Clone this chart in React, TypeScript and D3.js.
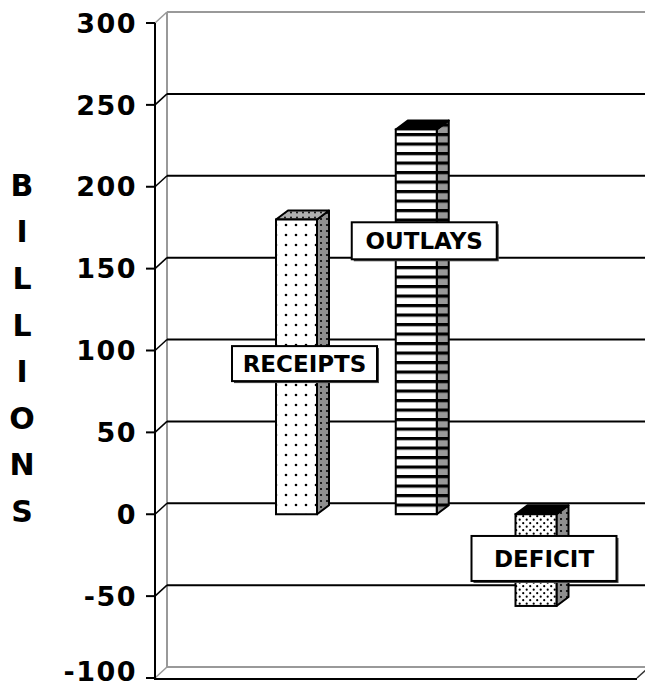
import React from "react";
import * as d3 from "d3";

const categories = ["RECEIPTS", "OUTLAYS", "DEFICIT"];
const values = [180, 235, -56];
const yTicks = [-100, -50, 0, 50, 100, 150, 200, 250, 300];
const axisTitle = "BILLIONS";
// label box anchors, in data units (value at box centre)
const labelAt = [92, 167, -27];

const W = 645;
const H = 688;
const FONT = "'DejaVu Sans', Verdana, sans-serif";

export default function App() {
  const y = d3.scaleLinear().domain([-100, 300]).range([678, 23]);
  const x = d3.scalePoint<string>().domain(categories).range([296.5, 536]);
  const axisX = 155;
  const dx = 12;
  const dy = -11;
  const wallRight = 660;
  const floorRight = 637;
  const barW = 41;
  const bdx = 12;
  const bdy = -9;

  const fronts = ["url(#dotsA)", "url(#stripes)", "url(#dotsB)"];
  const sides = ["url(#sideDots)", "url(#sideStripes)", "url(#sideDots)"];
  const tops = ["url(#topDots)", "#000", "#000"];
  const boxH = [35, 37, 45];
  const boxW = 145;

  const titleLetters = axisTitle.split("");
  const titleY = d3.scalePoint<number>().domain(d3.range(titleLetters.length)).range([185, 511]);

  return (
    <svg width={W} height={H} style={{ position: "absolute", left: 0, top: 0, background: "#fff" }}>
      <defs>
        <pattern id="dotsA" width="10" height="10" patternUnits="userSpaceOnUse" x="1" y="0">
          <rect width="10" height="10" fill="#fff" />
          <circle cx="5" cy="5" r="1.3" fill="#000" />
        </pattern>
        <pattern id="dotsB" width="7" height="7" patternUnits="userSpaceOnUse">
          <rect width="7" height="7" fill="#fff" />
          <circle cx="1.7" cy="1.7" r="1.1" fill="#000" />
          <circle cx="5.2" cy="5.2" r="1.1" fill="#000" />
        </pattern>
        <pattern id="sideDots" width="6" height="6" patternUnits="userSpaceOnUse">
          <rect width="6" height="6" fill="#8f8f8f" />
          <circle cx="3" cy="3" r="1.1" fill="#000" />
        </pattern>
        <pattern id="topDots" width="6" height="5" patternUnits="userSpaceOnUse">
          <rect width="6" height="5" fill="#b0b0b0" />
          <circle cx="3" cy="2.5" r="0.9" fill="#000" />
        </pattern>
        <pattern id="stripes" width="10" height="9.5" patternUnits="userSpaceOnUse">
          <rect width="10" height="9.5" fill="#fff" />
          <rect width="10" height="3.2" fill="#000" />
        </pattern>
        <pattern id="sideStripes" width="10" height="9.5" patternUnits="userSpaceOnUse">
          <rect width="10" height="9.5" fill="#999" />
          <rect width="10" height="3.2" fill="#000" />
        </pattern>
      </defs>

      {/* back wall */}
      <line x1={axisX + dx} x2={wallRight} y1={y(300) + dy} y2={y(300) + dy} stroke="#999" strokeWidth={2} />
      <line x1={axisX + dx} x2={axisX + dx} y1={y(300) + dy} y2={y(-100) + dy} stroke="#999" strokeWidth={2} />
      <line x1={axisX + dx} x2={floorRight + dx} y1={y(-100) + dy} y2={y(-100) + dy} stroke="#999" strokeWidth={2} />
      <line x1={axisX} x2={axisX + dx} y1={y(-100)} y2={y(-100) + dy} stroke="#999" strokeWidth={1.5} />
      <line x1={floorRight} x2={floorRight + dx} y1={y(-100)} y2={y(-100) + dy} stroke="#333" strokeWidth={1.5} />

      {yTicks.filter((t) => t > -100 && t < 300).map((t) => (
        <g key={"g" + t}>
          <line x1={axisX + dx} x2={wallRight} y1={y(t) + dy} y2={y(t) + dy} stroke="#000" strokeWidth={2} />
          <line x1={axisX} x2={axisX + dx} y1={y(t)} y2={y(t) + dy} stroke="#000" strokeWidth={1.5} />
        </g>
      ))}
      <line x1={axisX} x2={axisX + dx} y1={y(300)} y2={y(300) + dy} stroke="#999" strokeWidth={1.5} />

      {/* front axis & floor */}
      <line x1={axisX} x2={axisX} y1={y(300)} y2={y(-100)} stroke="#000" strokeWidth={2} />
      <line x1={axisX - 1} x2={floorRight} y1={y(-100) + 1} y2={y(-100) + 1} stroke="#000" strokeWidth={2} />

      {yTicks.map((t) => (
        <g key={"t" + t}>
          <line x1={axisX - 9} x2={axisX} y1={y(t)} y2={y(t)} stroke="#000" strokeWidth={2} />
          <text
            x={137}
            y={t === -100 ? y(t) - 7 : y(t)}
            dy="0.36em"
            textAnchor="end"
            fontFamily={FONT}
            fontWeight="bold"
            fontSize={27}
            letterSpacing={1.5}
            fill="#000"
          >
            {t}
          </text>
        </g>
      ))}

      {titleLetters.map((c, i) => (
        <text
          key={"b" + i}
          x={22}
          y={titleY(i)}
          dy="0.36em"
          textAnchor="middle"
          fontFamily={FONT}
          fontWeight="bold"
          fontSize={30}
          fill="#000"
        >
          {c}
        </text>
      ))}

      {/* bars */}
      {categories.map((c, i) => {
        const v = values[i];
        const cx = x(c)!;
        const x0 = cx - barW / 2;
        const x1 = cx + barW / 2;
        const yTop = y(Math.max(0, v));
        const yBot = y(Math.min(0, v));
        const top = `M${x0},${yTop} L${x0 + bdx},${yTop + bdy} L${x1 + bdx},${yTop + bdy} L${x1},${yTop} Z`;
        const side = `M${x1},${yTop} L${x1 + bdx},${yTop + bdy} L${x1 + bdx},${yBot + bdy} L${x1},${yBot} Z`;
        return (
          <g key={c}>
            <path d={side} fill={sides[i]} stroke="#000" strokeWidth={2} strokeLinejoin="round" />
            <path d={top} fill={tops[i]} stroke="#000" strokeWidth={2} strokeLinejoin="round" />
            <rect x={x0} y={yTop} width={barW} height={yBot - yTop} fill={fronts[i]} stroke="#000" strokeWidth={2} />
          </g>
        );
      })}

      {/* label boxes */}
      {categories.map((c, i) => {
        const cx = x(c)! + 8;
        const cy = y(labelAt[i]);
        const h = boxH[i];
        return (
          <g key={"l" + c}>
            <rect x={cx - boxW / 2 + 2} y={cy - h / 2 + 2} width={boxW} height={h} fill="#444" />
            <rect x={cx - boxW / 2} y={cy - h / 2} width={boxW} height={h} fill="#fff" stroke="#000" strokeWidth={2} />
            <text
              x={cx}
              y={cy}
              dy="0.36em"
              textAnchor="middle"
              fontFamily={FONT}
              fontWeight="bold"
              fontSize={23}
              fill="#000"
            >
              {c}
            </text>
          </g>
        );
      })}
    </svg>
  );
}
